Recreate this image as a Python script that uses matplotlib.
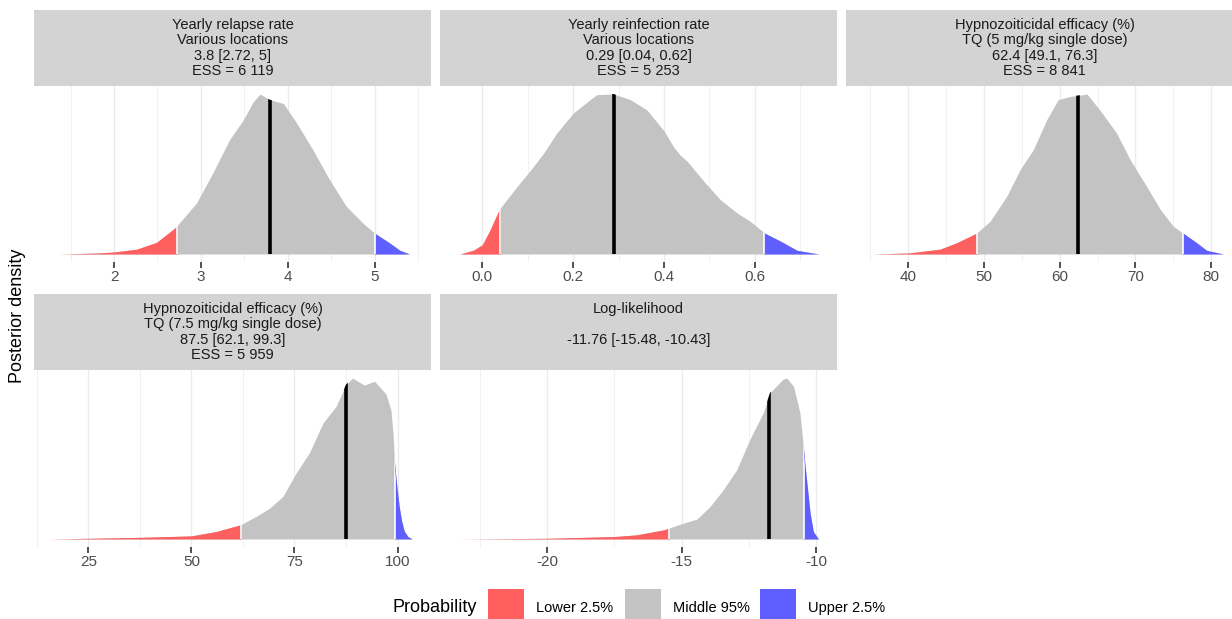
import numpy as np
import matplotlib
matplotlib.use("Agg")
import matplotlib.pyplot as plt
from matplotlib.patches import Rectangle

plt.rcParams['font.family'] = ['Liberation Sans', 'DejaVu Sans']
plt.rcParams['axes.unicode_minus'] = False

# strip titles
titles = [
    "Yearly relapse rate\nVarious locations\n3.8 [2.72, 5]\nESS = 6 119",
    "Yearly reinfection rate\nVarious locations\n0.29 [0.04, 0.62]\nESS = 5 253",
    "Hypnozoiticidal efficacy (%)\nTQ (5 mg/kg single dose)\n62.4 [49.1, 76.3]\nESS = 8 841",
    "Hypnozoiticidal efficacy (%)\nTQ (7.5 mg/kg single dose)\n87.5 [62.1, 99.3]\nESS = 5 959",
    "Log-likelihood\n\n-11.76 [-15.48, -10.43]\n",
]

# posterior density curves, scaled so the peak = 1
relapse_x = [1.38, 1.80, 2.00, 2.26, 2.49, 2.71, 2.95, 3.14, 3.33, 3.49, 3.60, 3.68, 3.79,
             3.95, 4.10, 4.29, 4.48, 4.67, 4.87, 5.00, 5.17, 5.29, 5.40]
relapse_y = [0, 0.006, 0.0125, 0.03, 0.073, 0.167, 0.32, 0.51, 0.715, 0.84, 0.95, 1.0, 0.965,
             0.94, 0.82, 0.65, 0.465, 0.30, 0.19, 0.13, 0.07, 0.023, 0]

reinf_x = [-0.049, -0.02, 0.0, 0.017, 0.0375, 0.076, 0.105, 0.135, 0.164, 0.20, 0.2375,
           0.252, 0.289, 0.326, 0.3625, 0.40, 0.421, 0.435, 0.451, 0.4875, 0.524, 0.561,
           0.590, 0.622, 0.657, 0.693, 0.741]
reinf_y = [0, 0.023, 0.058, 0.15, 0.28, 0.42, 0.52, 0.63, 0.756, 0.88, 0.965,
           0.996, 1.0, 0.965, 0.90, 0.77, 0.67, 0.62, 0.58, 0.455, 0.34, 0.256,
           0.204, 0.13, 0.08, 0.023, 0]

tq5_x = [35.2, 40.0, 44.2, 46.4, 49.0, 50.8, 53.0, 54.8, 56.5, 58.3, 59.8, 61.4,
         62.3, 63.6, 65.3, 67.5, 69.3, 71.5, 73.3, 75.0, 76.3, 78.1, 79.4, 81.6]
tq5_y = [0, 0.006, 0.03, 0.07, 0.13, 0.204, 0.36, 0.53, 0.65, 0.84, 0.965, 0.985,
         0.99, 1.0, 0.90, 0.756, 0.59, 0.42, 0.277, 0.173, 0.13, 0.07, 0.023, 0]

tq75_x = [15.7, 25, 37.5, 50, 56, 61.9, 65.7, 68.9, 72.2, 75.4, 78.6, 81.9, 85.1,
          87.5, 89.1, 91.9, 94.4, 97.2, 98.4, 98.9, 99.3, 99.8, 100.4, 101.0, 101.6,
          102.5, 103.5]
tq75_y = [0, 0.004, 0.01, 0.019, 0.046, 0.088, 0.14, 0.19, 0.265, 0.41, 0.535, 0.72,
          0.825, 0.96, 1.0, 0.956, 0.98, 0.90, 0.80, 0.65, 0.46, 0.33, 0.2, 0.11, 0.05,
          0.015, 0]

loglik_x = [-23.25, -20, -17.5, -16.7, -15.68, -15.48, -14.94, -14.44, -13.95, -13.45,
            -12.95, -12.46, -11.96, -11.71, -11.22, -11.09, -10.84, -10.6, -10.5,
            -10.41, -10.22, -10.1, -9.91]
loglik_y = [0, 0.004, 0.015, 0.025, 0.056, 0.067, 0.098, 0.123, 0.20, 0.306,
            0.43, 0.62, 0.785, 0.91, 0.994, 1.0, 0.95, 0.785, 0.62,
            0.46, 0.16, 0.046, 0]

# lower 2.5%, median, upper 2.5%
relapse_q = [2.72, 3.8, 5.0]
reinf_q = [0.04, 0.29, 0.62]
tq5_q = [49.1, 62.4, 76.3]
tq75_q = [62.1, 87.5, 99.3]
loglik_q = [-15.48, -11.76, -10.43]

# axis ticks
relapse_ticks = [2, 3, 4, 5]
relapse_labels = ["2", "3", "4", "5"]
relapse_minor = [1.5, 2.5, 3.5, 4.5, 5.5]
reinf_ticks = [0.0, 0.2, 0.4, 0.6]
reinf_labels = ["0.0", "0.2", "0.4", "0.6"]
reinf_minor = [0.1, 0.3, 0.5, 0.7]
tq5_ticks = [40, 50, 60, 70, 80]
tq5_labels = ["40", "50", "60", "70", "80"]
tq5_minor = [35, 45, 55, 65, 75]
tq75_ticks = [25, 50, 75, 100]
tq75_labels = ["25", "50", "75", "100"]
tq75_minor = [12.5, 37.5, 62.5, 87.5]
loglik_ticks = [-20, -15, -10]
loglik_labels = ["-20", "-15", "-10"]
loglik_minor = [-22.5, -17.5, -12.5]

RED = '#FF5F5F'
GREY = '#C3C3C3'
BLUE = '#5F5FFF'

W, H = 1232, 619
fig = plt.figure(figsize=(W / 100, H / 100), dpi=100)


def px(x0, y0, x1, y1):
    return [x0 / W, 1 - y1 / H, (x1 - x0) / W, (y1 - y0) / H]


cols = [(34, 431), (440, 837), (846, 1243)]
rows = [(10, 86, 262), (294, 370, 547)]

panels = [
    (relapse_x, relapse_y, relapse_q, relapse_ticks, relapse_labels, relapse_minor, (1.079, 5.648)),
    (reinf_x, reinf_y, reinf_q, reinf_ticks, reinf_labels, reinf_minor, (-0.0932, 0.781)),
    (tq5_x, tq5_y, tq5_q, tq5_ticks, tq5_labels, tq5_minor, (31.79, 84.2)),
    (tq75_x, tq75_y, tq75_q, tq75_ticks, tq75_labels, tq75_minor, (11.84, 108.1)),
    (loglik_x, loglik_y, loglik_q, loglik_ticks, loglik_labels, loglik_minor, (-23.99, -9.22)),
]

for i, (x, y, q, ticks, labels, minor, xlim) in enumerate(panels):
    r, c = divmod(i, 3)
    cx0, cx1 = cols[c]
    sy0, sy1, py1 = rows[r]

    # strip
    sax = fig.add_axes(px(cx0, sy0, cx1, sy1))
    sax.set_facecolor('#D3D3D3')
    sax.set_xticks([])
    sax.set_yticks([])
    for s in sax.spines.values():
        s.set_visible(False)
    sax.text(0.5, 0.5, titles[i], ha='center', va='center', fontsize=10.5,
             color='#1A1A1A', linespacing=1.1, transform=sax.transAxes)

    # panel
    ax = fig.add_axes(px(cx0, sy1, cx1, py1))
    ax.set_xlim(*xlim)
    ax.set_ylim(-0.05, 1.05)
    ax.set_xticks(ticks)
    ax.set_xticklabels(labels)
    ax.set_xticks(minor, minor=True)
    ax.set_yticks([])
    for s in ax.spines.values():
        s.set_visible(False)
    ax.grid(which='major', axis='x', color='#EBEBEB', lw=0.9)
    ax.grid(which='minor', axis='x', color='#EBEBEB', lw=0.5)
    ax.set_axisbelow(True)
    ax.tick_params(axis='x', which='major', length=4, width=1.2, color='#333333',
                   labelsize=11, labelcolor='#4D4D4D', pad=2)
    ax.tick_params(axis='x', which='minor', length=0)

    body = ax.fill_between(x, y, color=GREY, lw=0, zorder=2)
    lo = ax.fill_between(x, y, color=RED, lw=0, zorder=3)
    lo.set_clip_path(Rectangle((xlim[0], -1), q[0] - xlim[0], 3, transform=ax.transData))
    hi = ax.fill_between(x, y, color=BLUE, lw=0, zorder=3)
    hi.set_clip_path(Rectangle((q[2], -1), xlim[1] - q[2], 3, transform=ax.transData))

    outline = body.get_paths()[0]
    sep = ax.vlines([q[0], q[2]], 0, 1.2, color='white', lw=1.2, zorder=4)
    sep.set_clip_path(outline, ax.transData)
    med = ax.vlines(q[1], 0, 1.2, color='black', lw=2.6, zorder=5)
    med.set_clip_path(outline, ax.transData)

fig.text(18 / W, 1 - 316 / H, "Posterior density", rotation=90, ha='center',
         va='center', fontsize=13, color='black')

# legend
fig.text(392 / W, 1 - 608 / H, "Probability", ha='left', va='center', fontsize=13)
keys = [(488, RED, "Lower 2.5%"), (625, GREY, "Middle 95%"), (760, BLUE, "Upper 2.5%")]
for kx, col, lab in keys:
    fig.add_artist(Rectangle((kx / W, 1 - 625 / H), 36 / W, 36 / H, facecolor=col,
                             edgecolor='none', transform=fig.transFigure))
    fig.text((kx + 48) / W, 1 - 608 / H, lab, ha='left', va='center', fontsize=10.5)

fig.savefig('out.png', dpi=100)
